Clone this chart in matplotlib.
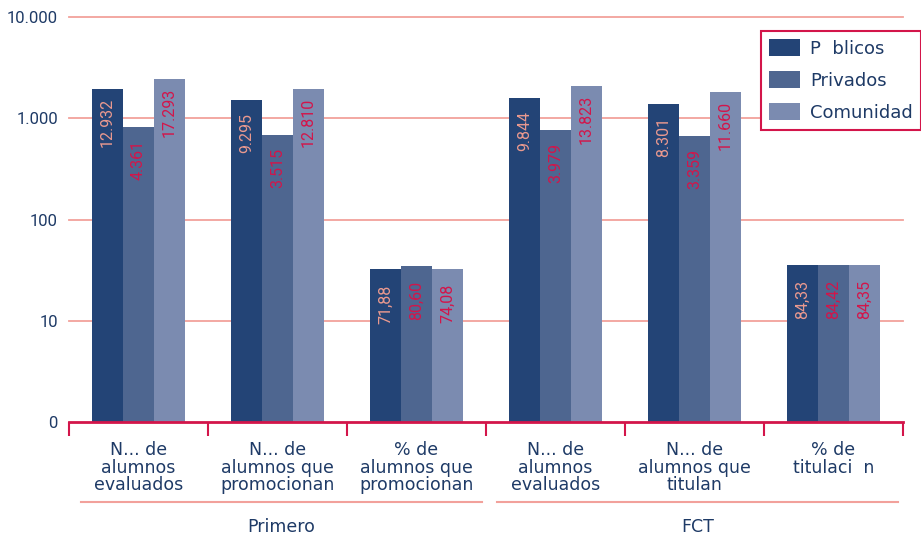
import numpy as np
import matplotlib
matplotlib.use("Agg")
import matplotlib.pyplot as plt
from matplotlib.transforms import blended_transform_factory

# categories and series
categories = ["N... de\nalumnos\nevaluados", "N... de\nalumnos que\npromocionan",
              "% de\nalumnos que\npromocionan", "N... de\nalumnos\nevaluados",
              "N... de\nalumnos que\ntitulan", "% de\ntitulaci  n"]
groups = ["Primero", "FCT"]
series = ["P  blicos", "Privados", "Comunidad"]

# bar heights as drawn on the log axis
publicos = [1945, 1517, 31.1, 1585, 1384, 34.8]
privados = [820, 684, 34.0, 767, 669, 34.8]
comunidad = [2443, 1945, 31.8, 2084, 1818, 34.8]

# labels printed inside the bars
lab_publicos = ["12.932", "9.295", "71,88", "9.844", "8.301", "84,33"]
lab_privados = ["4.361", "3.515", "80,60", "3.979", "3.359", "84,42"]
lab_comunidad = ["17.293", "12.810", "74,08", "13.823", "11.660", "84,35"]

yticks = [1, 10, 100, 1000, 10000]
yticklabels = ["0", "10", "100", "1.000", "10.000"]

navy = "#1e3a66"
crimson = "#d3154a"
salmon = "#f2a19b"
colors = ["#234476", "#4e6690", "#7b8bb0"]
label_colors = ["#eb9a8f", crimson, crimson]

W, H = 921, 538
fig = plt.figure(figsize=(W / 100, H / 100), dpi=100)
ax = fig.add_axes([69 / W, 1 - 422 / H, (903 - 69) / W, (422 - 17) / H])

x = np.arange(len(categories))
bw = 0.223
data = [publicos, privados, comunidad]
labels = [lab_publicos, lab_privados, lab_comunidad]

for i in range(3):
    xs = x + (i - 1) * bw
    ax.bar(xs, data[i], width=bw, bottom=1, color=colors[i], label=series[i], zorder=3)
    for xx, h, t in zip(xs, data[i], labels[i]):
        ax.annotate(t, (xx, h), xytext=(0, -24), textcoords="offset points",
                    rotation=90, ha="center", va="center", color=label_colors[i],
                    fontsize=11.5, family="Roboto", zorder=4)

ax.set_yscale("log")
ax.set_ylim(1, 10000)
ax.set_xlim(-0.5, 5.5)
ax.set_yticks(yticks)
ax.set_yticklabels(yticklabels)
ax.yaxis.set_minor_locator(plt.NullLocator())
ax.tick_params(axis="y", length=0, pad=8, labelsize=12, labelcolor=navy)
for t in ax.get_yticklabels():
    t.set_family("Roboto")

# horizontal grid lines
for yv in yticks[1:]:
    ax.axhline(yv, color=salmon, lw=1.3, zorder=0, clip_on=False)
for s in ["top", "right", "left"]:
    ax.spines[s].set_visible(False)
ax.spines["bottom"].set_color(crimson)
ax.spines["bottom"].set_linewidth(2)
ax.spines["bottom"].set_zorder(5)

ax.set_xticks(x)
ax.set_xticklabels(categories, fontsize=12.5, color=navy, family="DejaVu Sans", linespacing=0.95)
ax.set_xticks(np.arange(-0.5, 6, 1), minor=True)
ax.tick_params(axis="x", which="major", length=0, pad=14)
ax.tick_params(axis="x", which="minor", length=10, width=1.5, color=crimson, direction="out")

# group lines and labels
tr = blended_transform_factory(ax.transData, ax.transAxes)
group_spans = [(-0.414, 2.471), (2.579, 5.464)]
for (a, b), g in zip(group_spans, groups):
    ax.plot([a, b], [-0.1975, -0.1975], transform=tr, color=salmon, lw=1.5, clip_on=False)
    ax.text((a + b) / 2, -0.259, g, transform=tr, ha="center", va="center",
            fontsize=12.5, color=navy, family="DejaVu Sans")

leg = fig.legend(loc="upper left", bbox_to_anchor=(761 / W, 1 - 31 / H), borderaxespad=0,
                 fancybox=False, edgecolor=crimson, framealpha=1,
                 handlelength=1.72, handleheight=1.1, labelspacing=0.72,
                 handletextpad=0.55, borderpad=0.45, prop={"family": "DejaVu Sans", "size": 13})
leg.get_frame().set_linewidth(1.5)
for t in leg.get_texts():
    t.set_color(navy)

fig.savefig("out.png", dpi=100)
